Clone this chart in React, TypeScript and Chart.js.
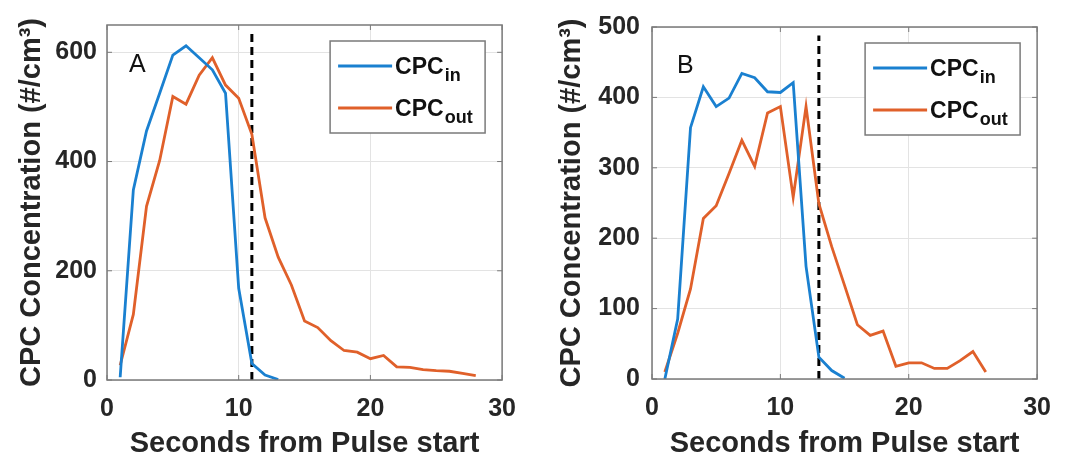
import React, { useEffect, useRef } from "react";
import { Chart, registerables } from "chart.js";

Chart.register(...registerables);

// ---------- data ----------
const xTickStep = 10;
const xMax = 30;

// Panel A
const timeInA = [1, 2, 3, 4, 5, 6, 7, 8, 9, 10, 11, 12, 13];
const cpcInA = [5, 348, 456, 525, 595, 612, 590, 568, 525, 168, 30, 9, 1];
const timeOutA = [1, 2, 3, 4, 5, 6, 7, 8, 9, 10, 11, 12, 13, 14, 15, 16, 17, 18, 19, 20, 21, 22, 23, 24, 25, 26, 27, 28];
const cpcOutA = [27, 120, 318, 402, 519, 505, 558, 590, 540, 516, 450, 297, 225, 174, 108, 96, 72, 54, 51, 39, 45, 24, 23, 19, 17, 16, 12, 8];
const pulseEndA = 11;
const dashTopA = 635;
const yMaxA = 650;
const yStepA = 200;

// Panel B
const timeInB = [1, 2, 3, 4, 5, 6, 7, 8, 9, 10, 11, 12, 13, 14, 15];
const cpcInB = [0, 85, 357, 415, 387, 399, 434, 428, 408, 407, 421, 160, 31, 12, 1];
const timeOutB = [1, 2, 3, 4, 5, 6, 7, 8, 9, 10, 11, 12, 13, 14, 15, 16, 17, 18, 19, 20, 21, 22, 23, 24, 25, 26];
const cpcOutB = [10, 65, 128, 228, 246, 292, 339, 302, 378, 387, 258, 387, 249, 188, 133, 77, 62, 68, 18, 23, 23, 15, 15, 26, 39, 10];
const pulseEndB = 13;
const dashTopB = 488;
const yMaxB = 500;
const yStepB = 100;

const legendMain = ["CPC", "CPC"];
const legendSub = ["in", "out"];
const xTitle = "Seconds from Pulse start";
const yTitle = "CPC Concentration (#/cm³)";

// ---------- styles ----------
const FONT = "'Liberation Sans', Arial, Helvetica, sans-serif";
const TEXT = "#262626";
const BOX = "#7a7a7a";
const GRID = "#e3e3e3";
const BLUE = "#1a80d0";
const ORANGE = "#e0602a";

type PanelCfg = {
  letter: string;
  letterDx: number;
  letterDy: number;
  timeIn: number[];
  cpcIn: number[];
  timeOut: number[];
  cpcOut: number[];
  pulseEnd: number;
  dashTop: number;
  yMax: number;
  yStep: number;
  width: number;
  left: number;
  yAxisWidth: number;
  padTop: number;
  padRight: number;
  xAxisHeight: number;
  yTickPad: number;
};

const panels: PanelCfg[] = [
  {
    letter: "A", letterDx: 22, letterDy: 47,
    timeIn: timeInA, cpcIn: cpcInA, timeOut: timeOutA, cpcOut: cpcOutA,
    pulseEnd: pulseEndA, dashTop: dashTopA, yMax: yMaxA, yStep: yStepA,
    width: 530, left: 0, yAxisWidth: 107, padTop: 18, padRight: 24, xAxisHeight: 78, yTickPad: 10,
  },
  {
    letter: "B", letterDx: 25, letterDy: 46,
    timeIn: timeInB, cpcIn: cpcInB, timeOut: timeOutB, cpcOut: cpcOutB,
    pulseEnd: pulseEndB, dashTop: dashTopB, yMax: yMaxB, yStep: yStepB,
    width: 525, left: 540, yAxisWidth: 112, padTop: 19, padRight: 16, xAxisHeight: 79, yTickPad: 12,
  },
];

function decorPlugin(cfg: PanelCfg) {
  return {
    id: "decor" + cfg.letter,
    afterDatasetsDraw(chart: any) {
      const { ctx, chartArea: a } = chart;
      const xs = chart.scales.x;
      const ys = chart.scales.y;
      ctx.save();
      // axes box
      ctx.strokeStyle = BOX;
      ctx.lineWidth = 1.5;
      ctx.strokeRect(a.left, a.top, a.right - a.left, a.bottom - a.top);
      // inward ticks
      ctx.lineWidth = 1;
      ctx.beginPath();
      xs.ticks.forEach((t: any) => {
        const px = xs.getPixelForValue(t.value);
        ctx.moveTo(px, a.bottom);
        ctx.lineTo(px, a.bottom - 5);
        ctx.moveTo(px, a.top);
        ctx.lineTo(px, a.top + 5);
      });
      ys.ticks.forEach((t: any) => {
        const py = ys.getPixelForValue(t.value);
        ctx.moveTo(a.left, py);
        ctx.lineTo(a.left + 5, py);
        ctx.moveTo(a.right, py);
        ctx.lineTo(a.right - 5, py);
      });
      ctx.stroke();

      // panel letter
      ctx.fillStyle = "#111";
      ctx.font = `normal 25px ${FONT}`;
      ctx.textBaseline = "alphabetic";
      ctx.textAlign = "left";
      ctx.fillText(cfg.letter, a.left + cfg.letterDx, a.top + cfg.letterDy);

      // legend
      const bw = 155, bh = 92;
      const bx = a.right - 17 - bw;
      const by = a.top + 16;
      ctx.fillStyle = "#fff";
      ctx.fillRect(bx, by, bw, bh);
      ctx.strokeStyle = BOX;
      ctx.lineWidth = 1.5;
      ctx.strokeRect(bx, by, bw, bh);
      const colors = [BLUE, ORANGE];
      const rows = [25, 67];
      rows.forEach((dy, i) => {
        const ly = by + dy;
        ctx.strokeStyle = colors[i];
        ctx.lineWidth = 2.8;
        ctx.beginPath();
        ctx.moveTo(bx + 8, ly);
        ctx.lineTo(bx + 62, ly);
        ctx.stroke();
        ctx.fillStyle = "#111";
        ctx.font = `bold 23px ${FONT}`;
        ctx.fillText(legendMain[i], bx + 65, ly + 8);
        const w = ctx.measureText(legendMain[i]).width;
        ctx.font = `bold 18px ${FONT}`;
        ctx.fillText(legendSub[i], bx + 65 + w + 1, ly + 15);
      });
      ctx.restore();
    },
  };
}

function Panel({ cfg }: { cfg: PanelCfg }) {
  const ref = useRef<HTMLCanvasElement | null>(null);
  useEffect(() => {
    if (!ref.current) return;
    const tickFont = { family: FONT, size: 25, weight: "bold" as const };
    const titleFont = { family: FONT, size: 29, weight: "bold" as const, lineHeight: 1 };
    const chart = new Chart(ref.current, {
      type: "line",
      data: {
        datasets: [
          {
            label: legendMain[0] + legendSub[0],
            data: cfg.timeIn.map((t, i) => ({ x: t, y: cfg.cpcIn[i] })),
            borderColor: BLUE,
            borderWidth: 2.8,
            pointRadius: 0,
            tension: 0,
            fill: false,
          },
          {
            label: legendMain[1] + legendSub[1],
            data: cfg.timeOut.map((t, i) => ({ x: t, y: cfg.cpcOut[i] })),
            borderColor: ORANGE,
            borderWidth: 2.8,
            pointRadius: 0,
            tension: 0,
            fill: false,
          },
          {
            label: "pulse end",
            data: [
              { x: cfg.pulseEnd, y: 0 },
              { x: cfg.pulseEnd, y: cfg.dashTop },
            ],
            borderColor: "#000",
            borderWidth: 3,
            borderDash: [8, 5],
            pointRadius: 0,
            fill: false,
          },
        ],
      },
      options: {
        animation: false,
        responsive: false,
        maintainAspectRatio: false,
        layout: { padding: { top: cfg.padTop, right: cfg.padRight, left: 0, bottom: 0 } },
        plugins: { legend: { display: false }, tooltip: { enabled: false } },
        scales: {
          x: {
            type: "linear",
            min: 0,
            max: xMax,
            ticks: { stepSize: xTickStep, color: TEXT, font: tickFont, padding: 14, maxRotation: 0 },
            grid: { color: GRID, lineWidth: 1, drawTicks: false },
            border: { display: false },
            title: { display: true, text: xTitle, color: TEXT, font: titleFont, padding: { top: 0, bottom: 0 } },
            afterFit: (s: any) => {
              s.height = cfg.xAxisHeight;
            },
          },
          y: {
            type: "linear",
            min: 0,
            max: cfg.yMax,
            ticks: { stepSize: cfg.yStep, includeBounds: false, color: TEXT, font: tickFont, padding: cfg.yTickPad },
            grid: { color: GRID, lineWidth: 1, drawTicks: false },
            border: { display: false },
            title: { display: true, text: yTitle, color: TEXT, font: titleFont, padding: { top: 17, bottom: 0 } },
            afterFit: (s: any) => {
              s.width = cfg.yAxisWidth;
            },
          },
        },
      },
      plugins: [decorPlugin(cfg)],
    });
    return () => chart.destroy();
  }, [cfg]);
  return (
    <canvas
      ref={ref}
      width={cfg.width}
      height={458}
      style={{ position: "absolute", left: cfg.left, top: 0, width: cfg.width, height: 458 }}
    />
  );
}

export default function App() {
  return (
    <div style={{ position: "absolute", left: 0, top: 0, width: 1065, height: 458, background: "#fff", overflow: "hidden" }}>
      {panels.map((p) => (
        <Panel key={p.letter} cfg={p} />
      ))}
    </div>
  );
}
